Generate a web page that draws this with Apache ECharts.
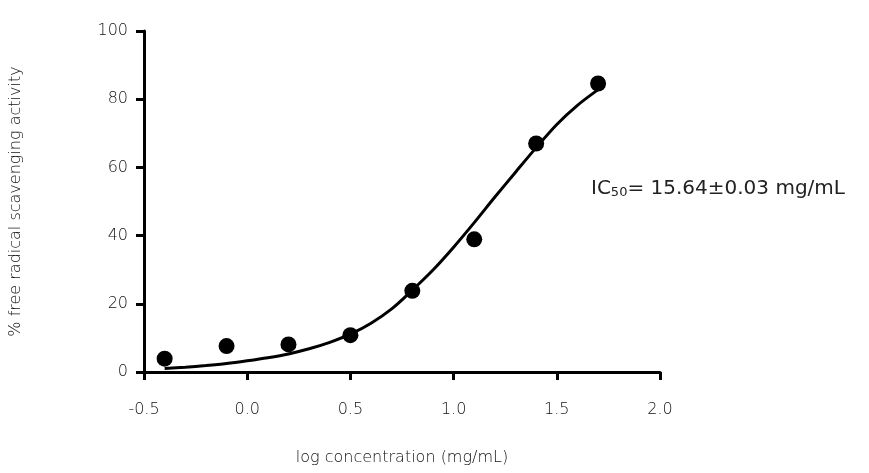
<!DOCTYPE html>
<html>
<head>
<meta charset="utf-8">
<script src="https://cdn.jsdelivr.net/npm/echarts@6/dist/echarts.min.js"></script>
<style>
  html, body { margin: 0; padding: 0; background: #fff; }
  #chart { width: 869px; height: 473px; }
</style>
</head>
<body>
<div id="chart"></div>
<script>
// measured points
const logConc = [-0.4, -0.1, 0.2, 0.5, 0.8, 1.1, 1.4, 1.7];
const activity = [3.9, 7.6, 8.1, 10.8, 23.8, 38.9, 67.0, 84.6];

// fitted curve
const curveX = [-0.4, -0.3, -0.2, -0.1, 0.0, 0.1, 0.2, 0.3, 0.4, 0.5, 0.6, 0.7, 0.8, 0.9, 1.0, 1.1, 1.2, 1.3, 1.4, 1.5, 1.6, 1.7];
const curveY = [1.0, 1.4, 1.9, 2.5, 3.3, 4.2, 5.3, 6.8, 8.7, 11.1, 14.3, 18.5, 24.0, 29.9, 36.6, 43.8, 51.3, 58.6, 65.8, 72.6, 78.2, 82.8];

const xTicks = { min: -0.5, max: 2.0, step: 0.5 };
const yTicks = { min: 0, max: 100, step: 20 };

const labelFont = '"DejaVu Sans", sans-serif';

const chart = echarts.init(document.getElementById('chart'));

chart.setOption({
    animation: false,
    grid: { left: 143, right: 209, top: 31, bottom: 101 },
    title: {
        left: 586,
        top: 173,
        text: 'IC{sub|50}= 15.64±0.03 mg/mL',
        textStyle: {
            fontFamily: labelFont,
            fontSize: 20,
            fontWeight: 'normal',
            color: '#222',
            rich: {
                sub: { fontFamily: labelFont, fontSize: 13, color: '#222', verticalAlign: 'bottom', padding: [8, 0, 0, 0] }
            }
        }
    },
    xAxis: {
        type: 'value',
        min: xTicks.min,
        max: xTicks.max,
        interval: xTicks.step,
        name: 'log concentration (mg/mL)',
        nameLocation: 'middle',
        nameGap: 78,
        nameTextStyle: { fontFamily: labelFont, fontWeight: 200, fontSize: 16, color: '#111' },
        axisLine: { onZero: false, lineStyle: { color: '#000', width: 3 } },
        axisTick: { length: 8, lineStyle: { color: '#000', width: 3 } },
        axisLabel: {
            margin: 30,
            fontFamily: labelFont,
            fontWeight: 200,
            fontSize: 16,
            color: '#111',
            formatter: v => v.toFixed(1)
        },
        splitLine: { show: false }
    },
    yAxis: {
        type: 'value',
        min: yTicks.min,
        max: yTicks.max,
        interval: yTicks.step,
        name: '% free radical scavenging activity',
        nameLocation: 'middle',
        nameGap: 120,
        nameTextStyle: { fontFamily: labelFont, fontWeight: 200, fontSize: 16, color: '#111' },
        axisLine: { show: true, onZero: false, lineStyle: { color: '#000', width: 3 } },
        axisTick: { show: true, length: 8, lineStyle: { color: '#000', width: 3 } },
        axisLabel: { margin: 16, fontFamily: labelFont, fontWeight: 200, fontSize: 16, color: '#111' },
        splitLine: { show: false }
    },
    series: [
        {
            type: 'line',
            data: curveX.map((x, i) => [x, curveY[i]]),
            smooth: 0.3,
            showSymbol: false,
            lineStyle: { color: '#000', width: 3 },
            z: 2
        },
        {
            type: 'scatter',
            data: logConc.map((x, i) => [x, activity[i]]),
            symbol: 'circle',
            symbolSize: 16,
            itemStyle: { color: '#000', opacity: 1 },
            z: 3
        }
    ]
});
</script>
</body>
</html>
